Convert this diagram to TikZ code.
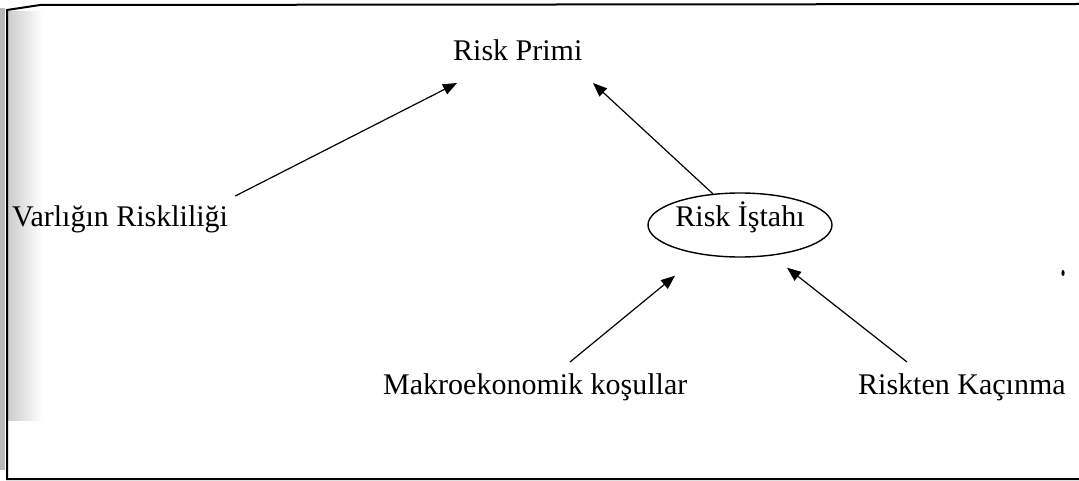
\documentclass[tikz,border=0pt]{standalone}
\usepackage{fontspec}
\setmainfont{Liberation Serif}
\usetikzlibrary{arrows.meta,shapes.geometric}
\begin{document}
\begin{tikzpicture}[x=1pt,y=-1pt,
  lbl/.style={inner sep=0pt, anchor=base west, font=\fontsize{30}{36}\selectfont},
  arr/.style={-{Triangle[length=14pt,width=11pt]}, line width=1.2pt},
  ]
\useasboundingbox (0,0) rectangle (1079,481);
% scan shading along the left edge
\fill[black!28] (0,8) rectangle (5,470);
\shade[left color=black!20,right color=white] (8,12) rectangle (42,420);
% frame
\draw[line width=2pt] (1079,4) -- (40,5) -- (7,10) -- (7,479) -- (1079,479);
% speck
\fill (1063,273) ellipse (1.6 and 3);
% nodes
\node[lbl] (primi) at (453,61) {Risk Primi};
\node[lbl] (varlik) at (12,227) {Varlığın Riskliliği};
\node[draw, ellipse, line width=1.4pt, minimum width=184pt, minimum height=64pt,
      inner sep=0pt, text height=20pt, text depth=16pt,
      font=\fontsize{30}{36}\selectfont] (istah) at (740,225) {Risk İştahı};
\node[lbl] (makro) at (383,394) {Makroekonomik koşullar};
\node[lbl] (kacinma) at (858,394) {Riskten Kaçınma};
% connectors
\draw[arr] ([shift={(7,-31)}]varlik.base east) -- ([shift={(4,22)}]primi.base west);
\draw[arr] (istah.131) -- ([shift={(140,22)}]primi.base west);
\draw[arr] ([shift={(187,-32)}]makro.base west) -- ([shift={(-65,18)}]istah.south);
\draw[arr] ([shift={(49,-32)}]kacinma.base west) -- ([shift={(47,10)}]istah.south);
\end{tikzpicture}
\end{document}
